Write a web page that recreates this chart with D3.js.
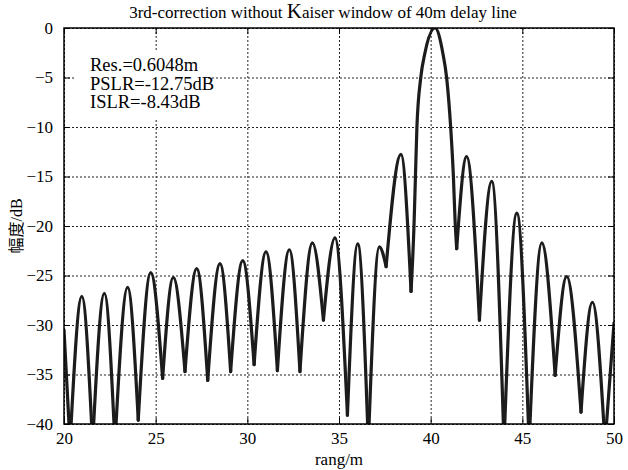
<!DOCTYPE html>
<html>
<head>
<meta charset="utf-8">
<script src="https://cdn.jsdelivr.net/npm/d3@7"></script>
<style>
body { margin: 0; background: #fff; }
text { font-family: "Liberation Serif", "Times New Roman", serif; fill: #000; }
</style>
</head>
<body>
<svg id="chart" width="628" height="470"></svg>
<script>
"use strict";

// knots: nulls and peaks of the range profile (m, dB)
var rangeM = [20, 20.33, 20.97, 21.56, 22.2, 22.78, 23.47, 24.05, 24.73, 25.38,
    25.96, 26.6, 27.24, 27.84, 28.51, 29.09, 29.75, 30.37, 31.02, 31.64,
    32.29, 32.87, 33.55, 34.15, 34.78, 35.46, 36.02, 36.6, 37.2, 37.57,
    38.38, 38.93, 39.09, 39.17, 39.25, 39.46, 39.69, 40.24, 40.66, 40.87,
    41.09, 41.24, 41.33, 41.42, 41.96, 42.66, 43.33, 44.0, 44.7, 45.37,
    46.06, 46.79, 47.42, 48.2, 48.82, 49.51, 50];
var ampDb = [-30.5, -42, -27.1, -42, -26.8, -42, -26.2, -39.6, -24.7, -35.4,
    -25.2, -34.7, -24.3, -35.6, -23.8, -34.7, -23.5, -34.0, -22.6, -34.6,
    -22.4, -34.7, -21.7, -29.5, -21.2, -39.1, -21.8, -42, -22.1, -24.1,
    -12.76, -26.6, -20, -15, -10, -5, -2.5, 0, -2.5, -5,
    -10, -15, -19.4, -22.3, -13.0, -29.5, -15.5, -42, -18.7, -42,
    -21.7, -35.1, -25.1, -38.8, -27.7, -42, -29.8];

var xTicks = [20, 25, 30, 35, 40, 45, 50];
var yTicks = [0, -5, -10, -15, -20, -25, -30, -35, -40];
var notes = ["Res.=0.6048m", "PSLR=-12.75dB", "ISLR=-8.43dB"];

var svg = d3.select("#chart");
var margin = { left: 64, top: 28, right: 14, bottom: 46 };
var width = 628 - margin.left - margin.right;
var height = 470 - margin.top - margin.bottom;

var x = d3.scaleLinear().domain([20, 50]).range([0, width]);
var y = d3.scaleLinear().domain([-40, 0]).range([height, 0]);

var g = svg.append("g")
    .attr("transform", "translate(" + margin.left + "," + margin.top + ")");

// dotted grid
g.append("g")
    .attr("class", "grid")
    .call(d3.axisBottom(x).tickValues(xTicks).tickSize(height).tickFormat(""));
g.append("g")
    .attr("class", "grid")
    .call(d3.axisLeft(y).tickValues(yTicks).tickSize(-width).tickFormat(""));
g.selectAll(".grid .domain").remove();
g.selectAll(".grid line")
    .attr("stroke", "#222")
    .attr("stroke-width", 1)
    .attr("stroke-dasharray", "2,2");

// axes with inward ticks
g.append("g")
    .attr("transform", "translate(0," + height + ")")
    .call(d3.axisBottom(x).tickValues(xTicks).tickSizeInner(-6).tickSizeOuter(0).tickPadding(8));
g.append("g")
    .call(d3.axisLeft(y).tickValues(yTicks).tickSizeInner(-6).tickSizeOuter(0).tickPadding(11));
g.append("g")
    .call(d3.axisTop(x).tickValues(xTicks).tickSizeInner(-6).tickSizeOuter(0).tickFormat(""));
g.append("g")
    .attr("transform", "translate(" + width + ",0)")
    .call(d3.axisRight(y).tickValues(yTicks).tickSizeInner(-6).tickSizeOuter(0).tickFormat(""));
g.selectAll(".domain").remove();
g.selectAll(".tick text")
    .style("font-family", "'Liberation Serif', serif")
    .style("font-size", "17px")
    .attr("fill", "#000");
g.selectAll(".tick line").attr("stroke-width", 1);

// curve, one lobe at a time so the nulls stay sharp
var pts = rangeM.map(function (r, i) { return { x: r, y: ampDb[i] }; });
var lobes = [];
var cur = [pts[0]];
for (var i = 1; i < pts.length; i++) {
    cur.push(pts[i]);
    var isMin = i < pts.length - 1 && pts[i].y < pts[i - 1].y && pts[i].y < pts[i + 1].y;
    if (isMin) {
        lobes.push(cur);
        cur = [pts[i]];
    }
}
lobes.push(cur);

svg.append("defs").append("clipPath").attr("id", "plot-clip")
    .append("rect").attr("width", width).attr("height", height);

var line = d3.line()
    .x(function (d) { return x(d.x); })
    .y(function (d) { return y(d.y); })
    .curve(d3.curveMonotoneX);

g.append("g")
    .attr("clip-path", "url(#plot-clip)")
    .selectAll("path")
    .data(lobes)
    .enter().append("path")
    .attr("d", line)
    .attr("fill", "none")
    .attr("stroke", "#1c1c1c")
    .attr("stroke-width", 3.2)
    .attr("stroke-linecap", "round")
    .attr("stroke-linejoin", "round");

// box
g.append("rect")
    .attr("width", width).attr("height", height)
    .attr("fill", "none").attr("stroke", "#000").attr("stroke-width", 1.5);

// text in the upper left, on a white patch that hides the grid
var noteG = g.append("g");
noteG.append("rect")
    .attr("x", 11).attr("y", 22)
    .attr("width", 132).attr("height", 68)
    .attr("fill", "#fff");
noteG.selectAll("text")
    .data(notes)
    .enter().append("text")
    .attr("x", 26)
    .attr("y", function (d, i) { return 43 + i * 18.5; })
    .style("font-size", "18.5px")
    .text(function (d) { return d; });

// title
var title = svg.append("text")
    .attr("x", 323).attr("y", 18)
    .attr("text-anchor", "middle")
    .style("font-size", "17px");
title.append("tspan").text("3rd-correction without ");
title.append("tspan").style("font-size", "21px").text("K");
title.append("tspan").text("aiser window of 40m delay line");

svg.append("text")
    .attr("x", margin.left + width / 2).attr("y", 465)
    .attr("text-anchor", "middle")
    .style("font-size", "17px")
    .text("rang/m");

var ylab = svg.append("text")
    .attr("transform", "translate(22," + (margin.top + height / 2) + ") rotate(-90)")
    .attr("text-anchor", "middle")
    .style("font-size", "16px");
ylab.append("tspan").style("font-family", "'Noto Sans CJK SC', sans-serif").text("幅度");
ylab.append("tspan").text("/dB");
</script>
</body>
</html>
